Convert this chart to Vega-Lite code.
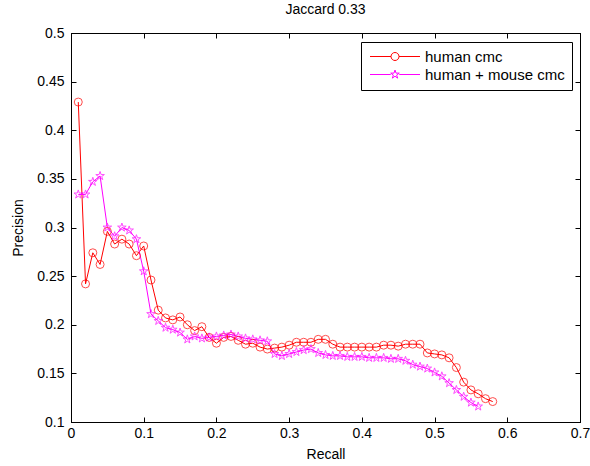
{
  "$schema": "https://vega.github.io/schema/vega-lite/v6.json",
  "width": 509,
  "height": 389,
  "autosize": {"type": "none"},
  "padding": {"left": 71, "top": 33, "right": 10, "bottom": 44},
  "background": "white",
  "title": {"text": "Jaccard 0.33", "fontSize": 14, "fontWeight": "normal", "font": "Liberation Sans", "color": "black", "offset": 9, "anchor": "middle"},
  "config": {
    "font": "Liberation Sans",
    "view": {"stroke": "black", "strokeWidth": 1},
    "axis": {"grid": false, "domainColor": "black", "tickColor": "black", "labelColor": "black", "titleColor": "black", "labelFontSize": 14, "titleFontSize": 14, "titleFontWeight": "normal", "tickSize": -5, "labelFont": "Liberation Sans", "titleFont": "Liberation Sans"}
  },
  "datasets": {
    "pr": [
      {"series": "human cmc", "recall": 0.01, "precision": 0.429},
      {"series": "human cmc", "recall": 0.02, "precision": 0.242},
      {"series": "human cmc", "recall": 0.03, "precision": 0.274},
      {"series": "human cmc", "recall": 0.04, "precision": 0.262},
      {"series": "human cmc", "recall": 0.05, "precision": 0.296},
      {"series": "human cmc", "recall": 0.06, "precision": 0.283},
      {"series": "human cmc", "recall": 0.07, "precision": 0.288},
      {"series": "human cmc", "recall": 0.08, "precision": 0.283},
      {"series": "human cmc", "recall": 0.09, "precision": 0.271},
      {"series": "human cmc", "recall": 0.10, "precision": 0.281},
      {"series": "human cmc", "recall": 0.11, "precision": 0.246},
      {"series": "human cmc", "recall": 0.12, "precision": 0.215},
      {"series": "human cmc", "recall": 0.13, "precision": 0.207},
      {"series": "human cmc", "recall": 0.14, "precision": 0.205},
      {"series": "human cmc", "recall": 0.15, "precision": 0.208},
      {"series": "human cmc", "recall": 0.16, "precision": 0.200},
      {"series": "human cmc", "recall": 0.17, "precision": 0.194},
      {"series": "human cmc", "recall": 0.18, "precision": 0.198},
      {"series": "human cmc", "recall": 0.19, "precision": 0.187},
      {"series": "human cmc", "recall": 0.20, "precision": 0.181},
      {"series": "human cmc", "recall": 0.21, "precision": 0.187},
      {"series": "human cmc", "recall": 0.22, "precision": 0.188},
      {"series": "human cmc", "recall": 0.23, "precision": 0.184},
      {"series": "human cmc", "recall": 0.24, "precision": 0.180},
      {"series": "human cmc", "recall": 0.25, "precision": 0.181},
      {"series": "human cmc", "recall": 0.26, "precision": 0.177},
      {"series": "human cmc", "recall": 0.27, "precision": 0.175},
      {"series": "human cmc", "recall": 0.28, "precision": 0.176},
      {"series": "human cmc", "recall": 0.29, "precision": 0.177},
      {"series": "human cmc", "recall": 0.30, "precision": 0.179},
      {"series": "human cmc", "recall": 0.31, "precision": 0.182},
      {"series": "human cmc", "recall": 0.32, "precision": 0.182},
      {"series": "human cmc", "recall": 0.33, "precision": 0.182},
      {"series": "human cmc", "recall": 0.34, "precision": 0.185},
      {"series": "human cmc", "recall": 0.35, "precision": 0.185},
      {"series": "human cmc", "recall": 0.36, "precision": 0.180},
      {"series": "human cmc", "recall": 0.37, "precision": 0.177},
      {"series": "human cmc", "recall": 0.38, "precision": 0.177},
      {"series": "human cmc", "recall": 0.39, "precision": 0.177},
      {"series": "human cmc", "recall": 0.40, "precision": 0.177},
      {"series": "human cmc", "recall": 0.41, "precision": 0.177},
      {"series": "human cmc", "recall": 0.42, "precision": 0.177},
      {"series": "human cmc", "recall": 0.43, "precision": 0.179},
      {"series": "human cmc", "recall": 0.44, "precision": 0.179},
      {"series": "human cmc", "recall": 0.45, "precision": 0.178},
      {"series": "human cmc", "recall": 0.46, "precision": 0.180},
      {"series": "human cmc", "recall": 0.47, "precision": 0.180},
      {"series": "human cmc", "recall": 0.48, "precision": 0.180},
      {"series": "human cmc", "recall": 0.49, "precision": 0.171},
      {"series": "human cmc", "recall": 0.50, "precision": 0.170},
      {"series": "human cmc", "recall": 0.51, "precision": 0.169},
      {"series": "human cmc", "recall": 0.52, "precision": 0.166},
      {"series": "human cmc", "recall": 0.53, "precision": 0.156},
      {"series": "human cmc", "recall": 0.54, "precision": 0.141},
      {"series": "human cmc", "recall": 0.55, "precision": 0.133},
      {"series": "human cmc", "recall": 0.56, "precision": 0.129},
      {"series": "human cmc", "recall": 0.57, "precision": 0.124},
      {"series": "human cmc", "recall": 0.58, "precision": 0.121},
      {"series": "human + mouse cmc", "recall": 0.01, "precision": 0.334},
      {"series": "human + mouse cmc", "recall": 0.02, "precision": 0.334},
      {"series": "human + mouse cmc", "recall": 0.03, "precision": 0.347},
      {"series": "human + mouse cmc", "recall": 0.04, "precision": 0.353},
      {"series": "human + mouse cmc", "recall": 0.05, "precision": 0.300},
      {"series": "human + mouse cmc", "recall": 0.06, "precision": 0.291},
      {"series": "human + mouse cmc", "recall": 0.07, "precision": 0.300},
      {"series": "human + mouse cmc", "recall": 0.08, "precision": 0.297},
      {"series": "human + mouse cmc", "recall": 0.09, "precision": 0.288},
      {"series": "human + mouse cmc", "recall": 0.10, "precision": 0.255},
      {"series": "human + mouse cmc", "recall": 0.11, "precision": 0.211},
      {"series": "human + mouse cmc", "recall": 0.12, "precision": 0.204},
      {"series": "human + mouse cmc", "recall": 0.13, "precision": 0.197},
      {"series": "human + mouse cmc", "recall": 0.14, "precision": 0.195},
      {"series": "human + mouse cmc", "recall": 0.15, "precision": 0.192},
      {"series": "human + mouse cmc", "recall": 0.16, "precision": 0.185},
      {"series": "human + mouse cmc", "recall": 0.17, "precision": 0.188},
      {"series": "human + mouse cmc", "recall": 0.18, "precision": 0.186},
      {"series": "human + mouse cmc", "recall": 0.19, "precision": 0.187},
      {"series": "human + mouse cmc", "recall": 0.20, "precision": 0.188},
      {"series": "human + mouse cmc", "recall": 0.21, "precision": 0.189},
      {"series": "human + mouse cmc", "recall": 0.22, "precision": 0.190},
      {"series": "human + mouse cmc", "recall": 0.23, "precision": 0.188},
      {"series": "human + mouse cmc", "recall": 0.24, "precision": 0.186},
      {"series": "human + mouse cmc", "recall": 0.25, "precision": 0.185},
      {"series": "human + mouse cmc", "recall": 0.26, "precision": 0.184},
      {"series": "human + mouse cmc", "recall": 0.27, "precision": 0.183},
      {"series": "human + mouse cmc", "recall": 0.28, "precision": 0.170},
      {"series": "human + mouse cmc", "recall": 0.29, "precision": 0.168},
      {"series": "human + mouse cmc", "recall": 0.30, "precision": 0.170},
      {"series": "human + mouse cmc", "recall": 0.31, "precision": 0.172},
      {"series": "human + mouse cmc", "recall": 0.32, "precision": 0.174},
      {"series": "human + mouse cmc", "recall": 0.33, "precision": 0.175},
      {"series": "human + mouse cmc", "recall": 0.34, "precision": 0.171},
      {"series": "human + mouse cmc", "recall": 0.35, "precision": 0.169},
      {"series": "human + mouse cmc", "recall": 0.36, "precision": 0.168},
      {"series": "human + mouse cmc", "recall": 0.37, "precision": 0.168},
      {"series": "human + mouse cmc", "recall": 0.38, "precision": 0.167},
      {"series": "human + mouse cmc", "recall": 0.39, "precision": 0.167},
      {"series": "human + mouse cmc", "recall": 0.40, "precision": 0.167},
      {"series": "human + mouse cmc", "recall": 0.41, "precision": 0.166},
      {"series": "human + mouse cmc", "recall": 0.42, "precision": 0.166},
      {"series": "human + mouse cmc", "recall": 0.43, "precision": 0.166},
      {"series": "human + mouse cmc", "recall": 0.44, "precision": 0.165},
      {"series": "human + mouse cmc", "recall": 0.45, "precision": 0.165},
      {"series": "human + mouse cmc", "recall": 0.46, "precision": 0.163},
      {"series": "human + mouse cmc", "recall": 0.47, "precision": 0.159},
      {"series": "human + mouse cmc", "recall": 0.48, "precision": 0.157},
      {"series": "human + mouse cmc", "recall": 0.49, "precision": 0.155},
      {"series": "human + mouse cmc", "recall": 0.50, "precision": 0.151},
      {"series": "human + mouse cmc", "recall": 0.51, "precision": 0.147},
      {"series": "human + mouse cmc", "recall": 0.52, "precision": 0.140},
      {"series": "human + mouse cmc", "recall": 0.53, "precision": 0.133},
      {"series": "human + mouse cmc", "recall": 0.54, "precision": 0.126},
      {"series": "human + mouse cmc", "recall": 0.55, "precision": 0.120},
      {"series": "human + mouse cmc", "recall": 0.56, "precision": 0.116}
    ]
  },
  "data": {"name": "pr"},
  "resolve": {"axis": {"x": "independent", "y": "independent"}},
  "layer": [
    {
      "mark": {"type": "line", "strokeWidth": 1},
      "encoding": {
        "x": {"field": "recall", "type": "quantitative", "scale": {"domain": [0, 0.7], "nice": false, "zero": false}, "axis": {"orient": "bottom", "title": "Recall", "values": [0, 0.1, 0.2, 0.3, 0.4, 0.5, 0.6, 0.7], "format": "~g", "labelPadding": 9, "titlePadding": 7, "labelFlush": false}},
        "y": {"field": "precision", "type": "quantitative", "scale": {"domain": [0.1, 0.5], "nice": false, "zero": false}, "axis": {"orient": "left", "title": "Precision", "values": [0.1, 0.15, 0.2, 0.25, 0.3, 0.35, 0.4, 0.45, 0.5], "format": "~g", "labelPadding": 12, "titlePadding": 11, "labelFlush": false}},
        "color": {"field": "series", "type": "nominal", "scale": {"domain": ["human cmc", "human + mouse cmc"], "range": ["#ff0000", "#ff00ff"]}, "legend": {
          "orient": "none", "legendX": 290, "legendY": 9, "title": null,
          "strokeColor": "black", "fillColor": "white", "padding": 7, "cornerRadius": 0,
          "labelFontSize": 15, "labelFont": "Liberation Sans", "labelColor": "black", "labelOffset": 42,
          "symbolSize": 100, "symbolStrokeWidth": 1, "symbolFillColor": "transparent", "rowPadding": 2,
          "encode": {"symbols": {"update": {"shape": {"signal": "datum.value === 'human cmc' ? 'M-1.1,0L3.1,0M4.7,0L8.9,0M3.1,0A0.8,0.8,0,1,0,4.7,0A0.8,0.8,0,1,0,3.1,0' : 'M-1.1,0L3.05,0M4.75,0L8.9,0M3.9,-0.9L4.102,-0.278L4.756,-0.278L4.227,0.106L4.429,0.728L3.9,0.344L3.371,0.728L3.573,0.106L3.044,-0.278L3.698,-0.278Z'"}, "fill": {"value": "transparent"}}}}
        }}
      }
    },
    {
      "transform": [{"filter": "datum.series === 'human cmc'"}],
      "mark": {"type": "point", "filled": false, "strokeWidth": 1, "size": 64, "shape": "circle", "color": "#ff0000"},
      "encoding": {
        "x": {"field": "recall", "type": "quantitative", "axis": {"orient": "top", "title": null, "labels": false, "values": [0, 0.1, 0.2, 0.3, 0.4, 0.5, 0.6, 0.7]}},
        "y": {"field": "precision", "type": "quantitative", "axis": {"orient": "right", "title": null, "labels": false, "values": [0.1, 0.15, 0.2, 0.25, 0.3, 0.35, 0.4, 0.45, 0.5]}}
      }
    },
    {
      "transform": [{"filter": "datum.series === 'human + mouse cmc'"}],
      "mark": {"type": "point", "filled": false, "strokeWidth": 1, "size": 81, "color": "#ff00ff", "shape": "M0,-1L0.2245,-0.309L0.951,-0.309L0.3633,0.118L0.588,0.809L0,0.382L-0.588,0.809L-0.3633,0.118L-0.951,-0.309L-0.2245,-0.309Z"},
      "encoding": {
        "x": {"field": "recall", "type": "quantitative", "axis": null},
        "y": {"field": "precision", "type": "quantitative", "axis": null}
      }
    }
  ]
}
